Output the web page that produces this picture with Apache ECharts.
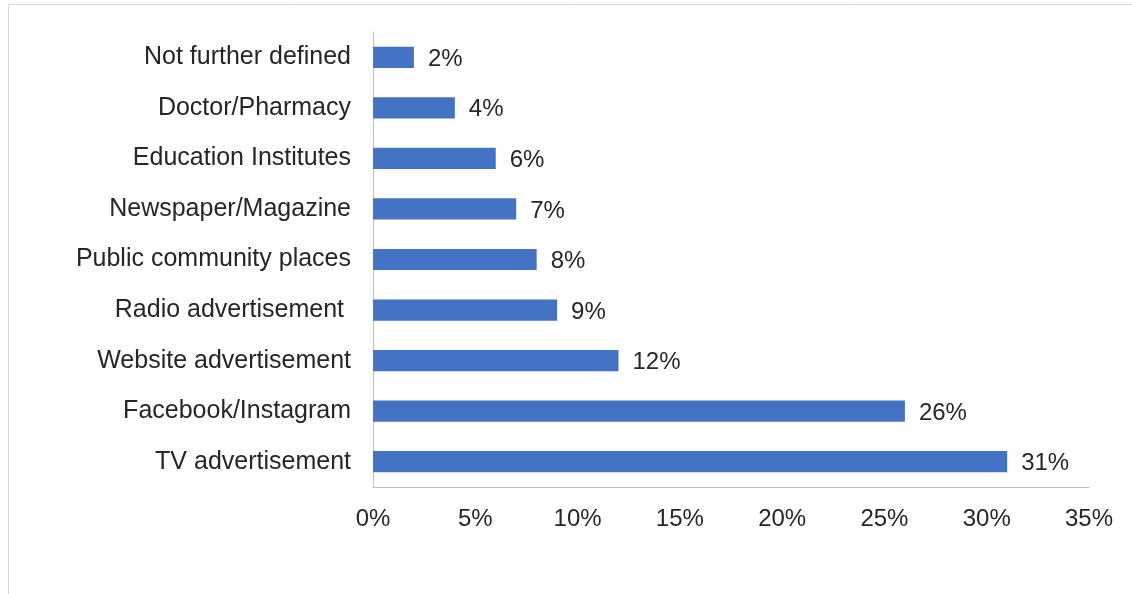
<!DOCTYPE html>
<html>
<head>
<meta charset="utf-8">
<style>
  html, body { margin: 0; padding: 0; background: #fff; }
  #chart { width: 1132px; height: 594px; }
</style>
<script src="https://cdn.jsdelivr.net/npm/echarts@6/dist/echarts.min.js"></script>
</head>
<body>
<div id="chart"></div>
<script>
// Information sources, listed bottom to top as drawn on the category axis
const categories = [
  'TV advertisement',
  'Facebook/Instagram',
  'Website advertisement',
  'Radio advertisement ',
  'Public community places',
  'Newspaper/Magazine',
  'Education Institutes',
  'Doctor/Pharmacy',
  'Not further defined'
];
const shares = [31, 26, 12, 9, 8, 7, 6, 4, 2];
const axisMax = 35;
const axisStep = 5;

const font = '"Liberation Sans", Arial, sans-serif';
const textColor = '#262626';

const chart = echarts.init(document.getElementById('chart'), null, { renderer: 'canvas' });
chart.setOption({
  backgroundColor: '#ffffff',
  animation: false,
  graphic: [{
    type: 'rect',
    shape: { x: 8.5, y: 4.5, width: 1200, height: 700 },
    style: { fill: 'none', stroke: '#d9d9d9', lineWidth: 1 },
    silent: true
  }],
  grid: { left: 373, right: 43, top: 32, bottom: 107, containLabel: false },
  xAxis: {
    type: 'value',
    min: 0,
    max: axisMax,
    interval: axisStep,
    axisLine: { show: true, lineStyle: { color: '#bfbfbf', width: 1 } },
    axisTick: { show: false },
    splitLine: { show: false },
    axisLabel: {
      formatter: v => v + '%',
      color: textColor,
      fontFamily: font,
      fontSize: 24,
      margin: 20
    }
  },
  yAxis: {
    type: 'category',
    data: categories,
    axisLine: { show: true, lineStyle: { color: '#bfbfbf', width: 1 } },
    axisTick: { show: false },
    axisLabel: {
      color: textColor,
      fontFamily: font,
      fontSize: 25,
      margin: 22
    }
  },
  series: [{
    type: 'bar',
    data: shares,
    barCategoryGap: '58%',
    itemStyle: { color: '#4472c4' },
    label: {
      show: true,
      position: 'right',
      distance: 14,
      offset: [0, 2],
      formatter: p => p.value + '%',
      color: textColor,
      fontFamily: font,
      fontSize: 24
    }
  }]
});
</script>
</body>
</html>
